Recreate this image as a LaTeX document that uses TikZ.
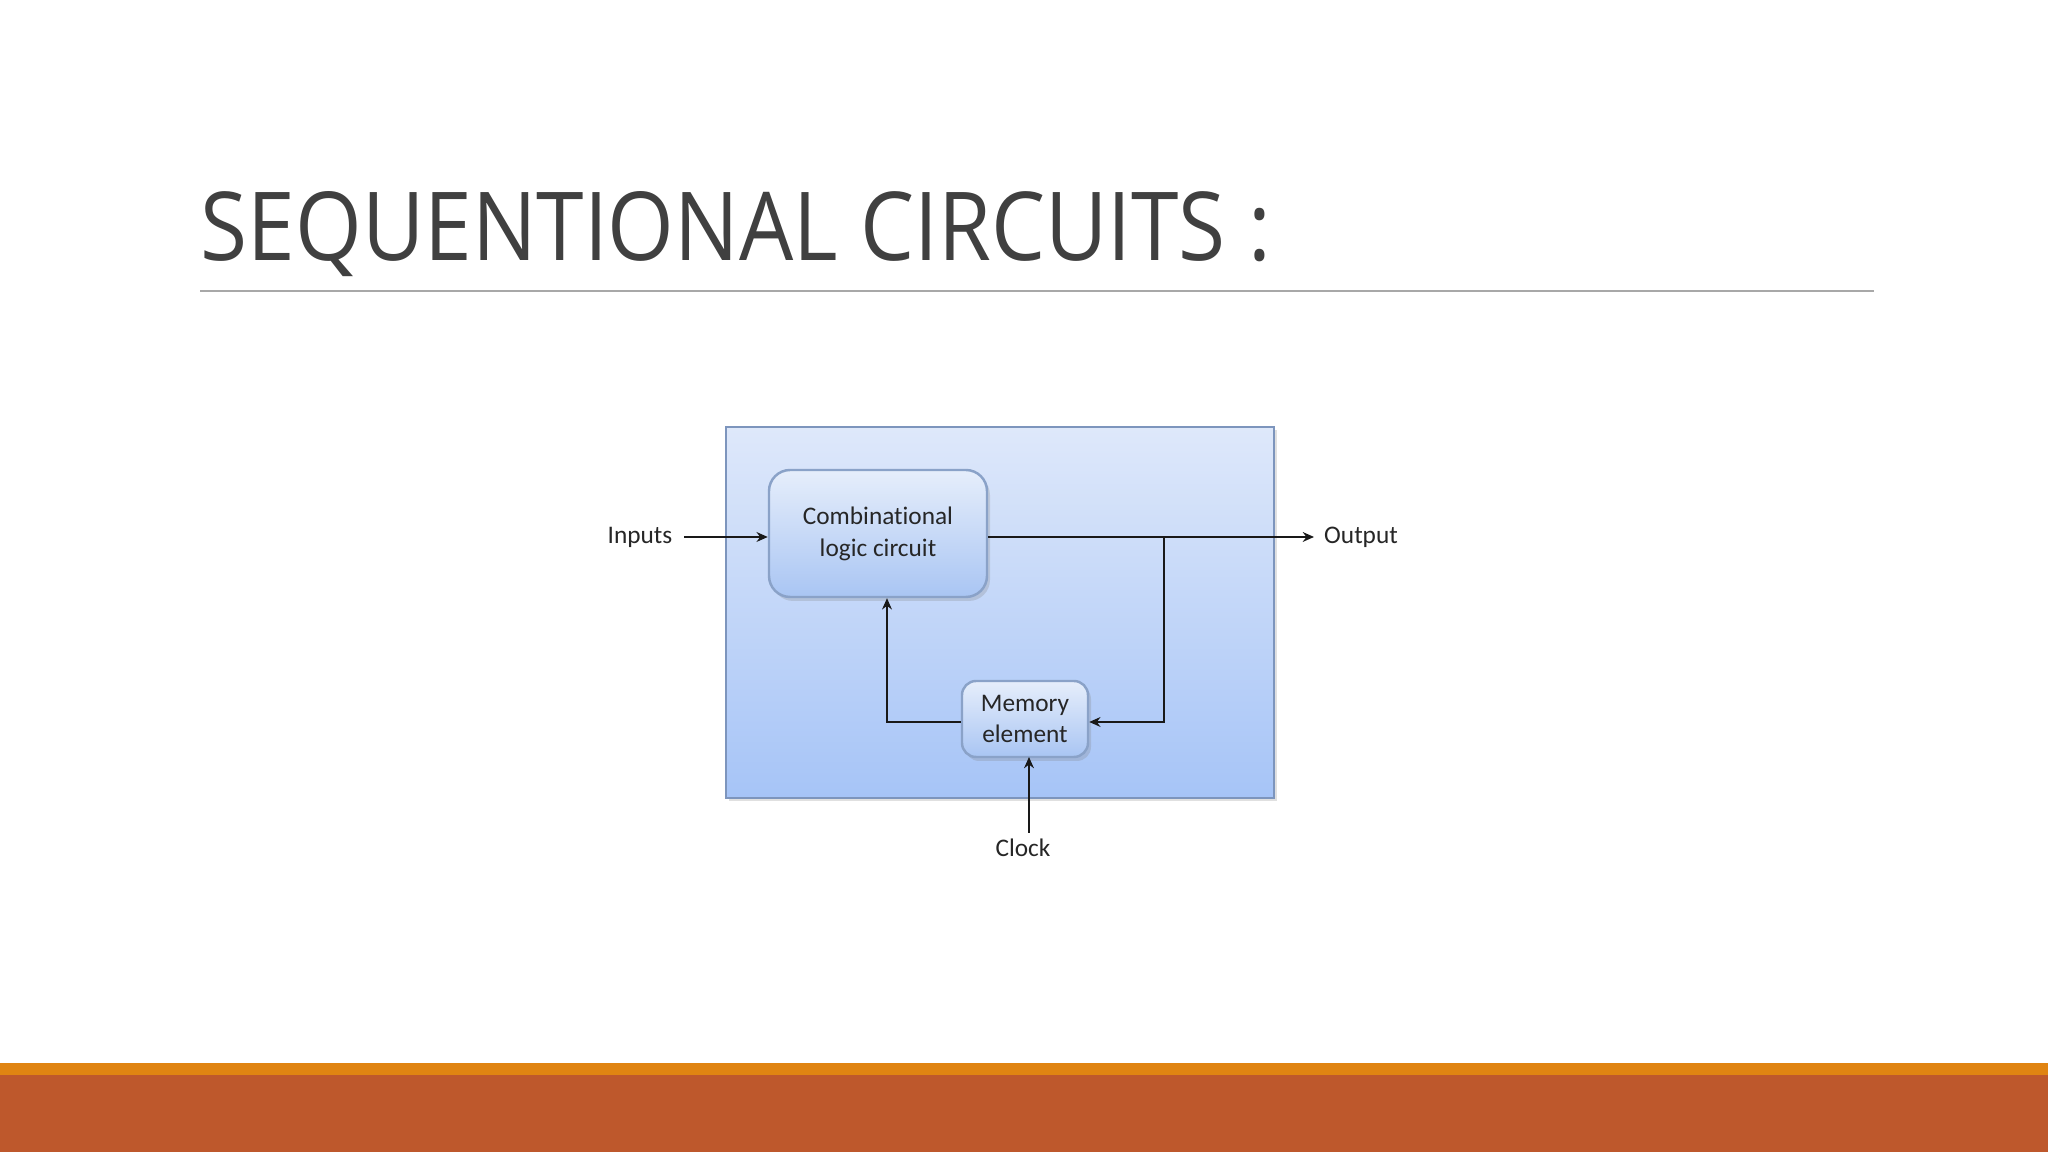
\documentclass[tikz,border=0pt]{standalone}
\usepackage{fontspec}
\usepackage{graphicx}
\setmainfont[Ligatures={NoCommon}]{Carlito}
\newfontfamily\titlefont{Open Sans}
\usetikzlibrary{arrows.meta,shadows,positioning}

\definecolor{rustbar}{HTML}{BE582C}
\definecolor{orangebar}{HTML}{E08412}
\definecolor{titlegrey}{HTML}{404040}
\definecolor{rulegrey}{HTML}{A8A8A8}
\definecolor{boxtop}{HTML}{E6EEFB}
\definecolor{boxbottom}{HTML}{A9C5F3}
\definecolor{boxline}{HTML}{8AA2C8}
\definecolor{frametop}{HTML}{DEE8FA}
\definecolor{framebottom}{HTML}{A6C4F7}
\definecolor{frameline}{HTML}{7D95BD}

\tikzset{
  block/.style={draw=boxline, line width=0.7pt, rounded corners=6pt,
    top color=boxtop, bottom color=boxbottom, align=center,
    font=\fontsize{7.2}{8.8}\selectfont, text=black!85,
    drop shadow={shadow xshift=0.03, shadow yshift=-0.04, opacity=0.25}},
  label text/.style={font=\fontsize{7.2}{8.8}\selectfont, text=black!85, inner sep=1pt},
  wire/.style={line width=0.6pt, black!90},
  signal/.style={wire, -{Stealth[length=3.2pt,width=2.8pt]}}
}

\begin{document}
\begin{tikzpicture}
  \useasboundingbox (0,0) rectangle (20.48,11.52);
  \fill[white] (0,0) rectangle (20.48,11.52);
  % bottom bars
  \fill[rustbar] (0,0) rectangle (20.48,0.77);
  \fill[orangebar] (0,0.77) rectangle (20.48,0.885);
  % title
  \node[anchor=base west, inner sep=0pt, text=titlegrey] (title) at (2.00,8.91)
    {\resizebox{10.7cm}{0.69cm}{\titlefont SEQUENTIONAL CIRCUITS :}};
  \draw[rulegrey, line width=0.6pt] (2.00,8.61) -- (18.74,8.61);

  % outer frame
  \fill[black, opacity=0.12] (7.29,3.51) rectangle (12.77,7.22);
  \draw[frameline, line width=0.6pt, top color=frametop, bottom color=framebottom]
    (7.26,3.54) rectangle (12.74,7.25);

  % blocks
  \node[block, minimum width=2.18cm, minimum height=1.27cm] (comb) at (8.78,6.185)
    {\raisebox{-0.115cm}{\shortstack{Combinational\\[1.1pt]logic circuit}}};
  \node[block, minimum width=1.26cm, minimum height=0.76cm, rounded corners=4pt] (mem) at (10.25,4.33)
    {Memory\\element};

  % labels
  \node[label text] (inputs) at (6.40,6.15) {Inputs};
  \node[label text, anchor=west] (output) at (13.20,6.15) {Output};
  \node[label text] (clock) at (10.23,3.04) {Clock};
  \coordinate (tap) at (11.64,6.15);
  \coordinate (back) at (8.87,4.30);

  % connectors
  \draw[signal] (6.84,6.15) -- (inputs.east -| comb.west);
  \draw[signal] (comb.east |- tap) -- (tap) -- (13.14,6.15);
  \draw[signal] (tap) |- (mem.east |- back);
  \draw[signal] (mem.west |- back) -- (back) -- (back |- comb.south);
  \draw[signal] (10.29,3.19) -- (10.29,3.95);
\end{tikzpicture}
\end{document}
